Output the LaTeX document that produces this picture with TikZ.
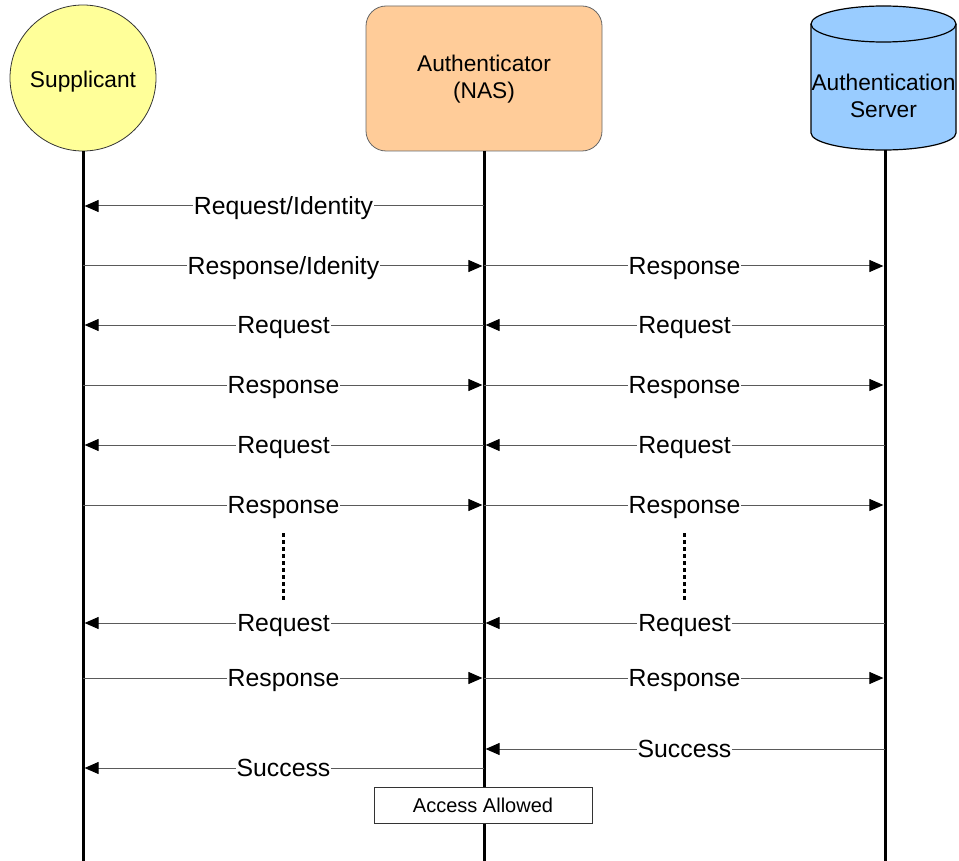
\documentclass[tikz,border=0pt]{standalone}
\usepackage{fontspec}
\setmainfont{Liberation Sans}
\usetikzlibrary{arrows.meta}
\definecolor{supfill}{HTML}{FFFF99}
\definecolor{authfill}{HTML}{FFCC99}
\definecolor{srvfill}{HTML}{99CCFF}
\definecolor{msgline}{HTML}{5A5A5A}
\begin{document}
\begin{tikzpicture}[x=1pt,y=-1pt,
  actortext/.style={font=\fontsize{22.7}{27}\selectfont, align=center, inner sep=0pt},
  lifeline/.style={line width=3pt, black},
  msg/.style={msgline, line width=1pt,
    -{Triangle[length=14pt,width=12pt,color=black,fill=black]}, shorten >=1.6pt},
  msglabel/.style={fill=white, text=black, inner sep=1pt, text height=17.5pt, text depth=0pt,
    font=\fontsize{24.8}{28}\selectfont},
  ellipsis/.style={line width=2.8pt, dash pattern=on 4pt off 3pt},
  notebox/.style={draw=black!80, fill=white, line width=0.8pt,
    minimum width=218pt, minimum height=36pt, font=\fontsize{20}{22}\selectfont}]
\useasboundingbox (0,0) rectangle (959,861);

% actors
\node[circle, draw=black!80, line width=0.8pt, fill=supfill, minimum size=146pt,
      inner sep=0pt] (sup) at (83,78) {};
\node[actortext, text height=16.5pt, text depth=0pt] (supText) at (83,79) {Supplicant};
\node[rectangle, rounded corners=20pt, draw=black!60, line width=0.8pt, fill=authfill,
      minimum width=236pt, minimum height=145pt] (nas) at (484,78.5) {};
\node[actortext] (nasText) at (484,79) {Authenticator\\(NAS)};
% server drawn as a cylinder
\fill[srvfill] (811,24) -- (811,133) arc[start angle=180, end angle=0, x radius=72.5, y radius=17]
      -- (956,24) arc[start angle=0, end angle=-180, x radius=72.5, y radius=18] -- cycle;
\draw[line width=1.2pt] (811,24) -- (811,133) arc[start angle=180, end angle=0, x radius=72.5, y radius=17]
      -- (956,24);
\draw[line width=1.2pt] (883.5,24) ellipse[x radius=72.5, y radius=18];
\node[actortext] (srv) at (883.5,96) {Authentication\\Server};

% lifeline ends
\coordinate (supTop) at (83,151);
\coordinate (nasTop) at (484,151);
\coordinate (srvTop) at (885,150);
\coordinate (supEnd) at (83,861);
\coordinate (nasEnd) at (484,861);
\coordinate (srvEnd) at (885,861);
\draw[lifeline] (supTop) -- (supEnd);
\draw[lifeline] (nasTop) -- (nasEnd);
\draw[lifeline] (srvTop) -- (srvEnd);

% message rows on each lifeline
\foreach \r/\y in {a/206,b/266,c/325,d/385,e/445,f/505,g/623,h/678,i/749,j/768}{
  \coordinate (S\r) at (83,\y);
  \coordinate (A\r) at (484,\y);
  \coordinate (V\r) at (885,\y);
}

% supplicant <-> authenticator
\draw[msg] (Aa) -- node[msglabel]{Request/Identity} (Sa);
\draw[msg] (Sb) -- node[msglabel]{Response/Idenity} (Ab);
\draw[msg] (Ac) -- node[msglabel]{Request} (Sc);
\draw[msg] (Sd) -- node[msglabel]{Response} (Ad);
\draw[msg] (Ae) -- node[msglabel]{Request} (Se);
\draw[msg] (Sf) -- node[msglabel]{Response} (Af);
\draw[msg] (Ag) -- node[msglabel]{Request} (Sg);
\draw[msg] (Sh) -- node[msglabel]{Response} (Ah);
\draw[msg] (Aj) -- node[msglabel]{Success} (Sj);

% authenticator <-> server
\draw[msg] (Ab) -- node[msglabel]{Response} (Vb);
\draw[msg] (Vc) -- node[msglabel]{Request} (Ac);
\draw[msg] (Ad) -- node[msglabel]{Response} (Vd);
\draw[msg] (Ve) -- node[msglabel]{Request} (Ae);
\draw[msg] (Af) -- node[msglabel]{Response} (Vf);
\draw[msg] (Vg) -- node[msglabel]{Request} (Ag);
\draw[msg] (Ah) -- node[msglabel]{Response} (Vh);
\draw[msg] (Vi) -- node[msglabel]{Success} (Ai);

% repeated exchanges
\coordinate (dl1) at (283.5,533);
\coordinate (dl2) at (283.5,600);
\coordinate (dr1) at (684.5,533);
\coordinate (dr2) at (684.5,600);
\draw[ellipsis] (dl1) -- (dl2);
\draw[ellipsis] (dr1) -- (dr2);

% outcome
\node[notebox] (access) at (483,805) {Access Allowed};
\end{tikzpicture}
\end{document}
